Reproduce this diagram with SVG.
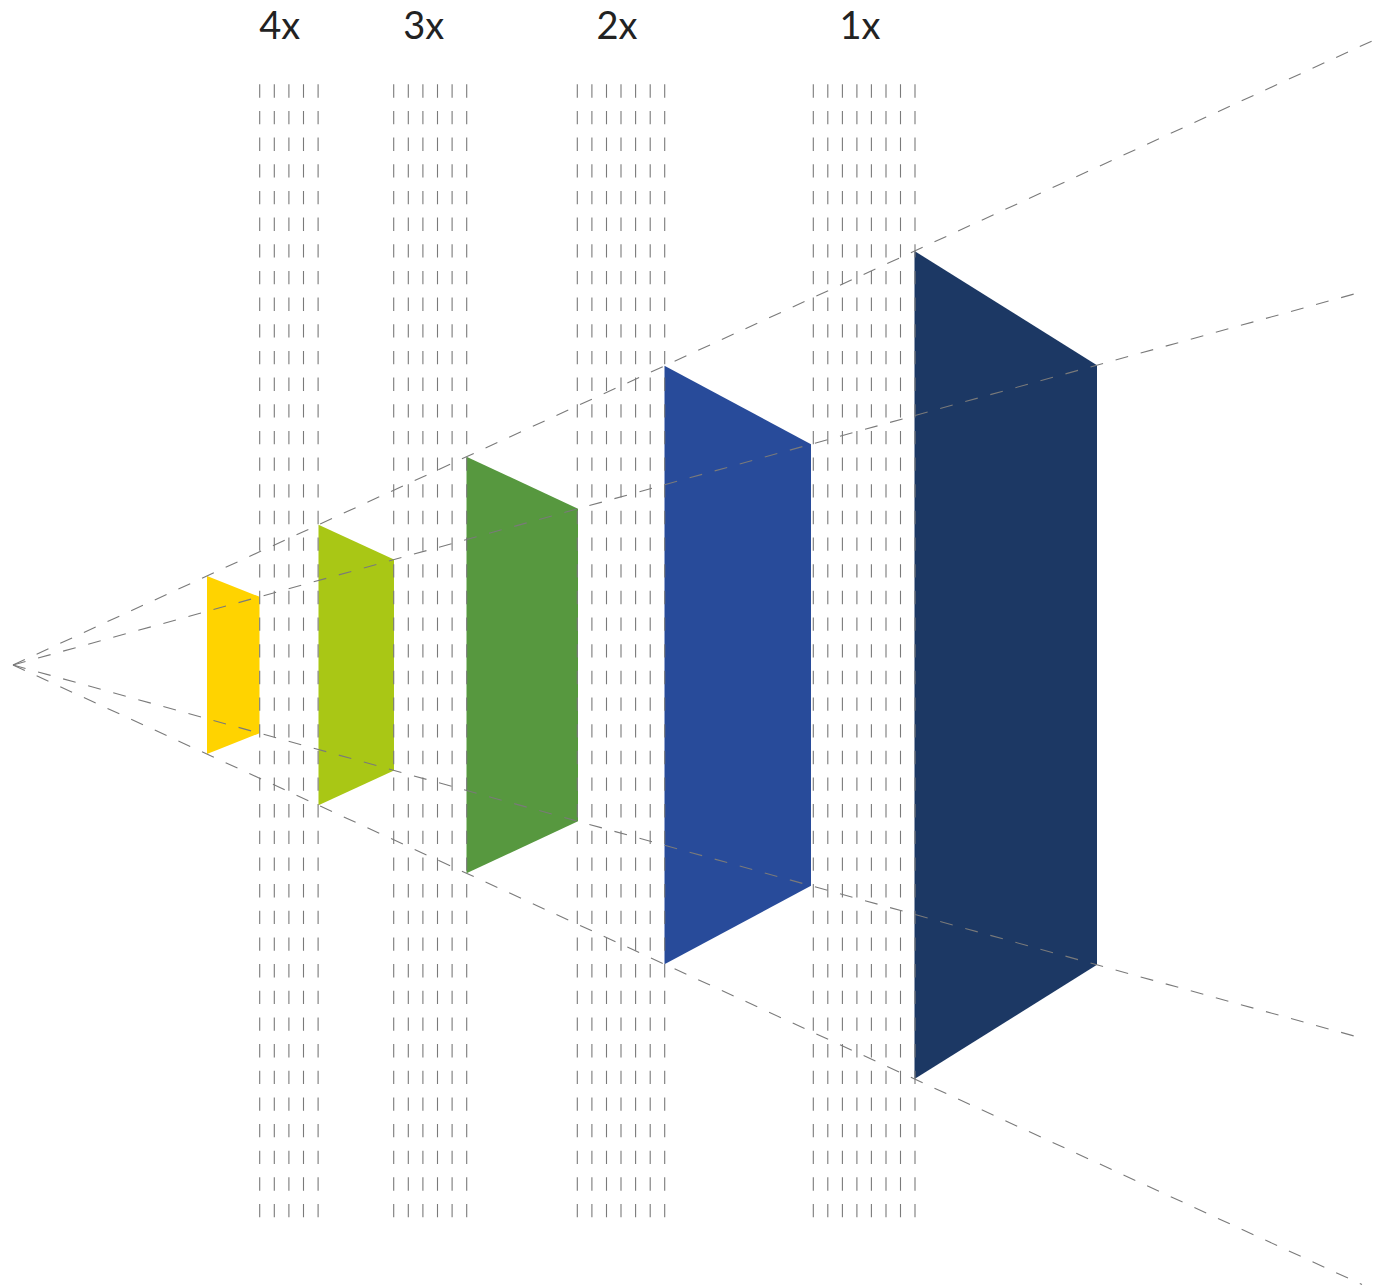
<svg xmlns="http://www.w3.org/2000/svg" width="1378" height="1285" viewBox="0 0 1378 1285">
  <style>
    .lbl { font-family: Lato, "Open Sans", "Liberation Sans", sans-serif; font-size: 38px; fill: #222222; text-anchor: middle; }
    .grid line { stroke: #7a7a7a; stroke-width: 1.1; stroke-dasharray: 13.33 13.33; }
    .conn line { stroke: #7a7a7a; stroke-width: 1.1; stroke-dasharray: 13 13; fill: none; }
  </style>
  <rect width="1378" height="1285" fill="#ffffff"/>

  <g id="node-4x"><polygon points="207,575.9 259.5,596.8 259.5,733.2 207,754.1" fill="#FFD300"/></g>
  <g id="node-3x"><polygon points="318.5,524.7 394,559.6 394,770.4 318.5,805.3" fill="#A9C715"/></g>
  <g id="node-2x"><polygon points="466.5,456.8 578,508.7 578,821.3 466.5,873.2" fill="#57983F"/></g>
  <g id="node-1x"><polygon points="664.5,365.8 811,444.3 811,885.7 664.5,964.2" fill="#284B9A"/></g>
  <g id="node-sensor"><polygon points="914.5,251 1097,365.2 1097,964.8 914.5,1079" fill="#1C3864"/></g>

  <g id="grid" class="grid">
    <line x1="259.7" y1="84.3" x2="259.7" y2="1218.3"/>
    <line x1="274.3" y1="84.3" x2="274.3" y2="1218.3"/>
    <line x1="288.9" y1="84.3" x2="288.9" y2="1218.3"/>
    <line x1="303.5" y1="84.3" x2="303.5" y2="1218.3"/>
    <line x1="318.1" y1="84.3" x2="318.1" y2="1218.3"/>

    <line x1="393.7" y1="84.3" x2="393.7" y2="1218.3"/>
    <line x1="408.3" y1="84.3" x2="408.3" y2="1218.3"/>
    <line x1="422.9" y1="84.3" x2="422.9" y2="1218.3"/>
    <line x1="437.5" y1="84.3" x2="437.5" y2="1218.3"/>
    <line x1="452.1" y1="84.3" x2="452.1" y2="1218.3"/>
    <line x1="466.7" y1="84.3" x2="466.7" y2="1218.3"/>

    <line x1="577.3" y1="84.3" x2="577.3" y2="1218.3"/>
    <line x1="591.9" y1="84.3" x2="591.9" y2="1218.3"/>
    <line x1="606.5" y1="84.3" x2="606.5" y2="1218.3"/>
    <line x1="621.0" y1="84.3" x2="621.0" y2="1218.3"/>
    <line x1="635.6" y1="84.3" x2="635.6" y2="1218.3"/>
    <line x1="650.2" y1="84.3" x2="650.2" y2="1218.3"/>
    <line x1="664.7" y1="84.3" x2="664.7" y2="1218.3"/>

    <line x1="813.3" y1="84.3" x2="813.3" y2="1218.3"/>
    <line x1="827.8" y1="84.3" x2="827.8" y2="1218.3"/>
    <line x1="842.4" y1="84.3" x2="842.4" y2="1218.3"/>
    <line x1="856.9" y1="84.3" x2="856.9" y2="1218.3"/>
    <line x1="871.4" y1="84.3" x2="871.4" y2="1218.3"/>
    <line x1="886.0" y1="84.3" x2="886.0" y2="1218.3"/>
    <line x1="900.5" y1="84.3" x2="900.5" y2="1218.3"/>
    <line x1="915.0" y1="84.3" x2="915.0" y2="1218.3"/>
  </g>

  <g id="connectors" class="conn">
    <line x1="13" y1="665" x2="1378" y2="38.2"/>
    <line x1="13" y1="665" x2="1365" y2="291"/>
    <line x1="13" y1="665" x2="1365" y2="1039"/>
    <line x1="13" y1="665" x2="1362" y2="1284.5"/>
  </g>

  <g id="labels">
    <text class="lbl" x="279.7" y="38.5">4x</text>
    <text class="lbl" x="423.7" y="38.5">3x</text>
    <text class="lbl" x="617" y="38.5">2x</text>
    <text class="lbl" x="860" y="38.5">1x</text>
  </g>
</svg>
